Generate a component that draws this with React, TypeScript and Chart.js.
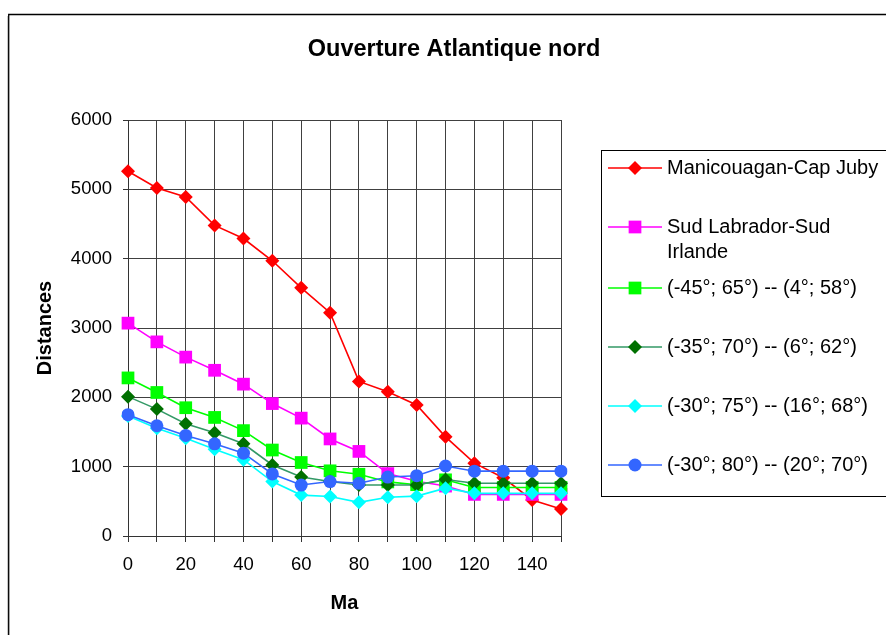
import React, { useEffect, useRef } from 'react';
import { Chart, registerables } from 'chart.js';

Chart.register(...registerables);

const FONT = "'Liberation Sans', Arial, Helvetica, sans-serif";

// ---- data ----
const ages = ['0', '10', '20', '30', '40', '50', '60', '70', '80', '90', '100', '110', '120', '130', '140', '150'];

const manicouaganCapJuby = [5260, 5020, 4890, 4480, 4290, 3970, 3580, 3220, 2230, 2080, 1890, 1430, 1050, 840, 520, 390];
const sudLabradorSudIrlande = [3070, 2800, 2580, 2390, 2190, 1910, 1700, 1400, 1220, 900, 790, 720, 600, 600, 600, 600];
const pair45_65 = [2280, 2070, 1850, 1710, 1520, 1240, 1060, 940, 890, 780, 740, 810, 700, 700, 700, 700];
const pair35_70 = [2010, 1830, 1620, 1490, 1330, 1025, 850, 785, 735, 735, 735, 815, 760, 760, 760, 760];
const pair30_75 = [1730, 1555, 1410, 1250, 1100, 785, 590, 570, 485, 560, 575, 690, 615, 615, 615, 615];
const pair30_80 = [1750, 1590, 1450, 1330, 1195, 895, 735, 785, 760, 850, 870, 1010, 935, 935, 935, 935];

const seriesNames = [
  'Manicouagan-Cap Juby',
  'Sud Labrador-Sud Irlande',
  '(-45°; 65°) -- (4°; 58°)',
  '(-35°; 70°) -- (6°; 62°)',
  '(-30°; 75°) -- (16°; 68°)',
  '(-30°; 80°) -- (20°; 70°)',
];
const legendLines = [
  ['Manicouagan-Cap Juby'],
  ['Sud Labrador-Sud', 'Irlande'],
  ['(-45°; 65°) -- (4°; 58°)'],
  ['(-35°; 70°) -- (6°; 62°)'],
  ['(-30°; 75°) -- (16°; 68°)'],
  ['(-30°; 80°) -- (20°; 70°)'],
];
const seriesValues = [manicouaganCapJuby, sudLabradorSudIrlande, pair45_65, pair35_70, pair30_75, pair30_80];

const chartTitle = 'Ouverture Atlantique nord';
const xTitle = 'Ma';
const yTitle = 'Distances';
const yMin = 0;
const yMax = 6000;
const yStep = 1000;

// ---- styles ----
const styles = [
  { line: '#FF0000', fill: '#FF0000', shape: 'rectRot', r: 7 },
  { line: '#FF00FF', fill: '#FF00FF', shape: 'rect', r: 9 },
  { line: '#00FF00', fill: '#00FF00', shape: 'rect', r: 9 },
  { line: '#339966', fill: '#007000', shape: 'rectRot', r: 7 },
  { line: '#00FFFF', fill: '#00FFFF', shape: 'rectRot', r: 7 },
  { line: '#3366FF', fill: '#3366FF', shape: 'circle', r: 6.5 },
];

function drawMarker(ctx: CanvasRenderingContext2D, shape: string, x: number, y: number, r: number, color: string) {
  ctx.save();
  ctx.fillStyle = color;
  ctx.beginPath();
  if (shape === 'rectRot') {
    ctx.moveTo(x - r, y);
    ctx.lineTo(x, y - r);
    ctx.lineTo(x + r, y);
    ctx.lineTo(x, y + r);
    ctx.closePath();
  } else if (shape === 'rect') {
    const s = r * Math.SQRT1_2;
    ctx.rect(x - s, y - s, 2 * s, 2 * s);
  } else {
    ctx.arc(x, y, r, 0, Math.PI * 2);
  }
  ctx.fill();
  ctx.restore();
}

const decorPlugin = {
  id: 'decor',
  beforeDraw(chart: any) {
    const ctx: CanvasRenderingContext2D = chart.ctx;
    ctx.save();
    ctx.fillStyle = '#FFFFFF';
    ctx.fillRect(0, 0, chart.width, chart.height);
    // outer chart frame (runs off the right and bottom edges)
    ctx.strokeStyle = '#C8C8C8';
    ctx.lineWidth = 1;
    ctx.beginPath();
    ctx.moveTo(7.5, 16);
    ctx.lineTo(7.5, chart.height + 5);
    ctx.stroke();
    ctx.strokeStyle = '#000000';
    ctx.lineWidth = 1.3;
    ctx.beginPath();
    ctx.moveTo(8.7, chart.height + 5);
    ctx.lineTo(8.7, 14.5);
    ctx.lineTo(chart.width + 5, 14.5);
    ctx.stroke();
    // title
    ctx.fillStyle = '#000000';
    ctx.font = `bold 23.5px ${FONT}`;
    ctx.textAlign = 'center';
    ctx.textBaseline = 'middle';
    ctx.fillText(chartTitle, 454, 50);
    ctx.restore();
  },
  afterDraw(chart: any) {
    const ctx: CanvasRenderingContext2D = chart.ctx;
    ctx.save();
    // legend box
    ctx.strokeStyle = '#000000';
    ctx.lineWidth = 1;
    ctx.strokeRect(601.5, 150.5, 400, 346);
    const rowY = [168, 227, 288, 347, 406, 465];
    ctx.font = `20px ${FONT}`;
    ctx.textAlign = 'left';
    ctx.textBaseline = 'middle';
    chart.data.datasets.forEach((ds: any, i: number) => {
      const y = rowY[i];
      ctx.strokeStyle = ds.borderColor;
      ctx.lineWidth = ds.borderWidth;
      ctx.beginPath();
      ctx.moveTo(608, y);
      ctx.lineTo(662, y);
      ctx.stroke();
      drawMarker(ctx, styles[i].shape, 635, y, styles[i].r, styles[i].fill);
      ctx.fillStyle = '#000000';
      legendLines[i].forEach((t, k) => ctx.fillText(t, 667, y + k * 25));
    });
    ctx.restore();
  },
};

export default function App() {
  const canvasRef = useRef<HTMLCanvasElement | null>(null);

  useEffect(() => {
    const canvas = canvasRef.current;
    if (!canvas) return;
    const datasets = seriesValues.map((vals, i) => ({
      label: seriesNames[i],
      data: vals,
      borderColor: styles[i].line,
      backgroundColor: styles[i].fill,
      borderWidth: 1.6,
      pointStyle: styles[i].shape,
      pointRadius: styles[i].r,
      pointBackgroundColor: styles[i].fill,
      pointBorderColor: styles[i].fill,
      pointBorderWidth: 0,
      tension: 0,
      fill: false,
      order: seriesValues.length - i,
    }));

    const chart = new Chart(canvas, {
      type: 'line',
      data: { labels: ages, datasets },
      options: {
        animation: false,
        responsive: false,
        devicePixelRatio: 1,
        layout: { padding: { left: 9, top: 120, right: 325, bottom: 0 } },
        plugins: {
          legend: { display: false },
          title: { display: false },
          tooltip: { enabled: false },
        },
        scales: {
          x: {
            type: 'category',
            offset: false,
            afterFit: (scale: any) => { scale.height = 99; },
            grid: { color: '#404040', lineWidth: 1, tickLength: 6, tickColor: '#333', drawTicks: true },
            border: { display: true, color: '#333', width: 1 },
            ticks: {
              autoSkip: false,
              maxRotation: 0,
              minRotation: 0,
              padding: 12,
              color: '#000',
              font: { family: FONT, size: 18.5 },
              callback: (_v: any, i: number) => (i % 2 === 0 ? ages[i] : ''),
            },
            title: {
              display: true,
              text: xTitle,
              color: '#000',
              font: { family: FONT, size: 20, weight: 'bold' },
              padding: { top: 0, bottom: 20 },
            },
          },
          y: {
            min: yMin,
            max: yMax,
            afterFit: (scale: any) => { scale.width = 119; },
            grid: { color: '#404040', lineWidth: 1, tickLength: 5, tickColor: '#333', drawTicks: true },
            border: { display: true, color: '#333', width: 1 },
            ticks: {
              stepSize: yStep,
              padding: 11,
              color: '#000',
              font: { family: FONT, size: 18.5 },
              callback: (v: any) => String(v),
            },
            title: {
              display: true,
              text: yTitle,
              color: '#000',
              font: { family: FONT, size: 20, weight: 'bold' },
              padding: { top: 24, bottom: 0 },
            },
          },
        },
      },
      plugins: [decorPlugin],
    } as any);

    return () => chart.destroy();
  }, []);

  return (
    <div style={{ position: 'absolute', left: 0, top: 0, width: 886, height: 635, background: '#fff' }}>
      <canvas ref={canvasRef} width={886} height={635} style={{ display: 'block', width: 886, height: 635 }} />
    </div>
  );
}
